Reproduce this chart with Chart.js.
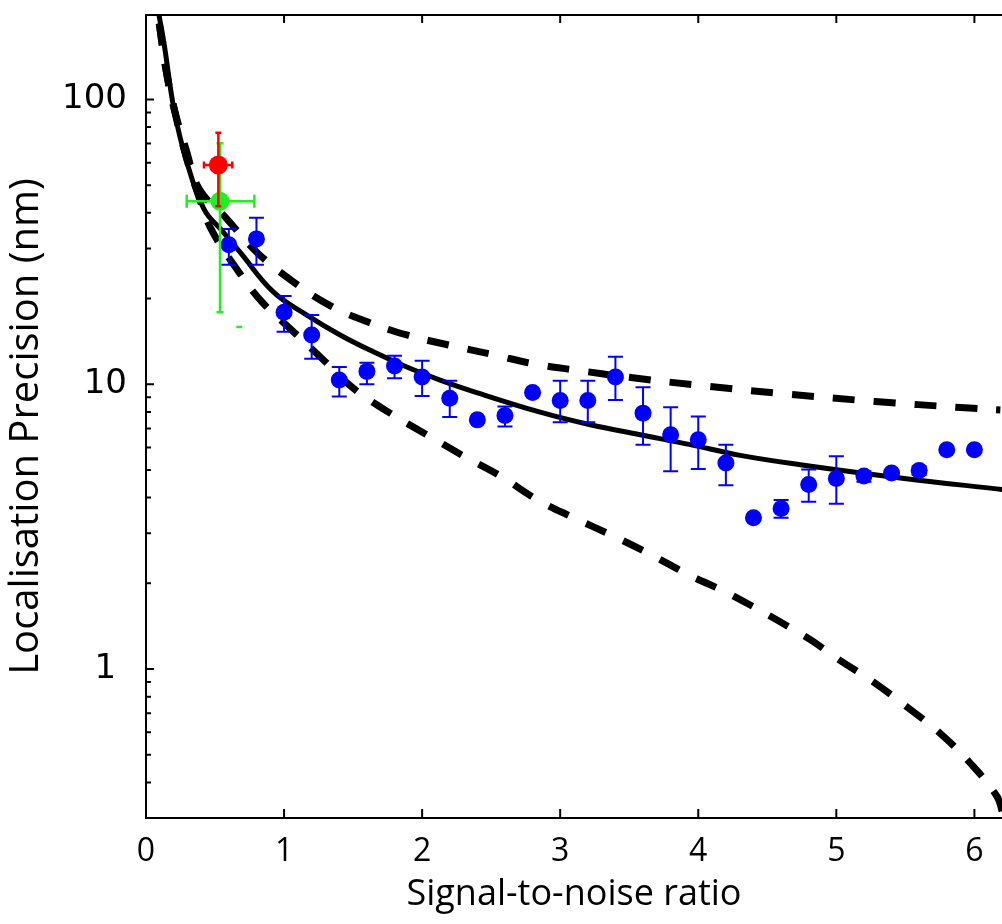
<!DOCTYPE html>
<html>
<head>
<meta charset="utf-8">
<script src="https://cdn.jsdelivr.net/npm/chart.js@4/dist/chart.umd.min.js"></script>
<style>
  body { margin: 0; background: #fff; }
  #chart { display: block; }
</style>
</head>
<body>
<canvas id="chart" width="1002" height="924"></canvas>
<script>
// measured points
var blueX  = [0.6, 0.8, 1.0, 1.2, 1.4, 1.6, 1.8, 2.0, 2.2, 2.4, 2.6, 2.8, 3.0, 3.2, 3.4, 3.6, 3.8, 4.0, 4.2, 4.4, 4.6, 4.8, 5.0, 5.2, 5.4, 5.6, 5.8, 6.0];
var blueY  = [30.9, 32.4, 17.9, 14.9, 10.35, 11.1, 11.6, 10.6, 8.93, 7.50, 7.77, 9.35, 8.77, 8.77, 10.6, 7.92, 6.65, 6.39, 5.29, 3.40, 3.66, 4.45, 4.67, 4.76, 4.88, 4.98, 5.89, 5.89];
var blueLo = [26.3, 26.3, 15.3, 12.3, 9.06, 10.0, 10.5, 9.1, 7.67, null, 7.11, null, 7.35, 7.35, 8.81, 6.13, 4.95, 5.04, 4.42, null, 3.40, 3.87, 3.81, 4.55, null, 4.80, null, null];
var blueHi = [35.1, 38.4, 20.4, 17.5, 11.5, 11.9, 12.6, 12.1, 10.3, null, 8.36, null, 10.3, 10.3, 12.5, 9.76, 8.31, 7.71, 6.13, null, 3.92, 5.02, 5.59, 4.95, null, 5.15, null, null];

var redPoint   = { x: 0.524, y: 58.9 };
var redErr     = { xLo: 0.42, xHi: 0.625, yLo: 42.2, yHi: 76.4 };
var greenPoint = { x: 0.536, y: 43.9 };
var greenErr   = { xLo: 0.295, xHi: 0.785, yLo: 17.9, yHi: 70.2 };
var greenDash  = { x: 0.676, y: 15.9 };

// fit curve and the two bounds
var fitX   = [0.094, 0.13, 0.203, 0.29, 0.42, 0.558, 0.681, 0.922, 1.165, 1.406, 1.647, 1.889, 2.13, 2.372, 2.855, 3.217, 3.58, 3.942, 4.304, 4.739, 5.464, 6.203];
var fitY   = [198, 158, 92.3, 61.7, 41.2, 34.3, 29.1, 21.1, 17.5, 14.9, 13.0, 11.5, 10.35, 9.43, 7.98, 7.21, 6.65, 6.14, 5.63, 5.22, 4.69, 4.27];
var upperX = [0.096, 0.145, 0.205, 0.29, 0.386, 0.585, 0.802, 1.067, 1.333, 1.599, 1.889, 2.203, 2.517, 2.806, 3.121, 3.483, 4.087, 4.654, 5.283, 5.899, 6.188];
var upperY = [185, 127, 92.3, 66.9, 48.5, 38.1, 29.1, 22.9, 18.9, 16.6, 14.9, 13.7, 12.7, 11.8, 11.2, 10.6, 9.82, 9.23, 8.70, 8.29, 8.13];
var lowerX = [0.096, 0.145, 0.205, 0.29, 0.38, 0.471, 0.657, 0.838, 1.043, 1.261, 1.502, 1.768, 2.034, 2.30, 2.565, 2.831, 3.097, 3.386, 3.652, 3.942, 4.232, 4.787, 5.005, 5.27, 5.512, 5.754, 5.971, 6.164, 6.203];
var lowerY = [185, 127, 92.3, 63, 46, 35.1, 25.4, 19.5, 15.7, 12.5, 9.68, 7.92, 6.65, 5.60, 4.77, 3.94, 3.40, 2.93, 2.53, 2.13, 1.83, 1.29, 1.09, 0.90, 0.736, 0.594, 0.467, 0.357, 0.314];

var xTicks = [0, 1, 2, 3, 4, 5, 6];
var yTicks = [1, 10, 100];
var yMinor = [0.4, 0.5, 0.6, 0.7, 0.8, 0.9, 2, 3, 4, 5, 6, 7, 8, 9, 20, 30, 40, 50, 60, 70, 80, 90];

function pairs(xs, ys) {
  return xs.map(function(x, i) { return { x: x, y: ys[i] }; });
}

var blueErrors = blueX.map(function(x, i) {
  return blueLo[i] == null ? null : { yLo: blueLo[i], yHi: blueHi[i] };
});

// error bars drawn just before their own dataset
var errorBars = {
  id: 'errorBars',
  beforeDatasetDraw: function(chart, args) {
    var ds = chart.data.datasets[args.index];
    if (!ds.errors) return;
    var xs = chart.scales.x, ys = chart.scales.y, ctx = chart.ctx;
    ctx.save();
    ctx.strokeStyle = ds.errColor;
    ctx.lineWidth = ds.errWidth;
    ds.data.forEach(function(p, i) {
      var e = ds.errors[i];
      if (!e) return;
      var px = xs.getPixelForValue(p.x), py = ys.getPixelForValue(p.y);
      ctx.beginPath();
      if (e.yLo != null) {
        var a = ys.getPixelForValue(e.yLo), b = ys.getPixelForValue(e.yHi);
        ctx.moveTo(px, a); ctx.lineTo(px, b);
        ctx.moveTo(px - ds.capY, a); ctx.lineTo(px + ds.capY, a);
        ctx.moveTo(px - ds.capY, b); ctx.lineTo(px + ds.capY, b);
      }
      if (e.xLo != null) {
        var l = xs.getPixelForValue(e.xLo), r = xs.getPixelForValue(e.xHi);
        ctx.moveTo(l, py); ctx.lineTo(r, py);
        ctx.moveTo(l, py - ds.capX); ctx.lineTo(l, py + ds.capX);
        ctx.moveTo(r, py - ds.capX); ctx.lineTo(r, py + ds.capX);
      }
      ctx.stroke();
    });
    ctx.restore();
  }
};

// box on left/bottom/top with inward ticks
var frame = {
  id: 'frame',
  afterDraw: function(chart) {
    var ctx = chart.ctx, a = chart.chartArea;
    var xs = chart.scales.x, ys = chart.scales.y;
    ctx.save();
    ctx.strokeStyle = '#000';
    ctx.lineWidth = 2;
    ctx.beginPath();
    ctx.moveTo(a.right + 2, a.top); ctx.lineTo(a.left, a.top);
    ctx.lineTo(a.left, a.bottom); ctx.lineTo(a.right + 2, a.bottom);
    xTicks.forEach(function(v) {
      var p = xs.getPixelForValue(v);
      if (v === 0) return;
      ctx.moveTo(p, a.bottom); ctx.lineTo(p, a.bottom - 9);
      ctx.moveTo(p, a.top); ctx.lineTo(p, a.top + 8);
    });
    yTicks.forEach(function(v) {
      var p = ys.getPixelForValue(v);
      ctx.moveTo(a.left, p); ctx.lineTo(a.left + 8, p);
    });
    yMinor.forEach(function(v) {
      var p = ys.getPixelForValue(v);
      ctx.moveTo(a.left, p); ctx.lineTo(a.left + 5, p);
    });
    ctx.stroke();
    ctx.restore();
  }
};

Chart.defaults.color = '#000';
Chart.defaults.font.family = '"Open Sans", sans-serif';

var ctx = document.getElementById('chart').getContext('2d');
var chart = new Chart(ctx, {
  type: 'scatter',
  data: {
    datasets: [
      {
        label: 'red',
        data: [redPoint],
        backgroundColor: '#ff0000',
        borderWidth: 0,
        pointRadius: 9.5,
        errors: [redErr], errColor: '#ff0000', errWidth: 2.5, capX: 3.5, capY: 3
      },
      {
        label: 'green',
        data: [greenPoint],
        backgroundColor: '#22ee22',
        borderWidth: 0,
        pointRadius: 9.5,
        errors: [greenErr], errColor: '#22ee22', errWidth: 2.5, capX: 6.5, capY: 3.5
      },
      {
        label: 'green tick',
        data: [greenDash],
        pointStyle: 'line',
        borderColor: '#22ee22',
        borderWidth: 2.5,
        pointRadius: 3
      },
      {
        label: 'measured',
        data: pairs(blueX, blueY),
        backgroundColor: '#0000ff',
        borderWidth: 0,
        pointRadius: 8.5,
        errors: blueErrors, errColor: '#0000ff', errWidth: 2, capX: 0, capY: 7.5
      },
      {
        label: 'fit',
        type: 'line',
        data: pairs(fitX, fitY),
        borderColor: '#000',
        borderWidth: 5,
        pointRadius: 0,
        tension: 0.4,
        fill: false
      },
      {
        label: 'upper',
        type: 'line',
        data: pairs(upperX, upperY),
        borderColor: '#000',
        borderWidth: 7,
        borderDash: [22, 19],
        pointRadius: 0,
        tension: 0.4,
        fill: false
      },
      {
        label: 'lower',
        type: 'line',
        data: pairs(lowerX, lowerY),
        borderColor: '#000',
        borderWidth: 7,
        borderDash: [22, 19],
        pointRadius: 0,
        tension: 0.4,
        fill: false
      }
    ]
  },
  options: {
    responsive: false,
    animation: false,
    events: [],
    layout: { autoPadding: false, padding: { top: 15, right: 0, left: 0, bottom: 0 } },
    plugins: { legend: { display: false }, tooltip: { enabled: false } },
    scales: {
      x: {
        type: 'linear',
        min: 0,
        max: 6.2,
        grid: { display: false },
        border: { display: false },
        afterBuildTicks: function(s) { s.ticks = xTicks.map(function(v) { return { value: v }; }); },
        afterFit: function(s) { s.height = 106; s.paddingLeft = 0; s.paddingRight = 0; },
        ticks: { padding: 7, font: { family: '"Open Sans"', size: 32 }, maxRotation: 0 },
        title: {
          display: true,
          text: 'Signal-to-noise ratio',
          font: { family: '"Open Sans"', size: 36 },
          padding: { top: 0, bottom: 8 }
        }
      },
      y: {
        type: 'logarithmic',
        min: 0.31,
        max: 198,
        grid: { display: false },
        border: { display: false },
        afterBuildTicks: function(s) { s.ticks = yTicks.map(function(v) { return { value: v }; }); },
        afterFit: function(s) { s.width = 146; s.paddingTop = 0; s.paddingBottom = 0; },
        ticks: {
          padding: 11,
          font: { family: '"DejaVu Sans"', size: 34 },
          callback: function(v) { return v === 1 ? '1\u2008' : String(v); }
        },
        title: {
          display: true,
          text: 'Localisation Precision (nm)\u2002',
          font: { family: '"Open Sans"', size: 40 },
          padding: { top: 3, bottom: 0 }
        }
      }
    }
  },
  plugins: [errorBars, frame]
});
</script>
</body>
</html>
